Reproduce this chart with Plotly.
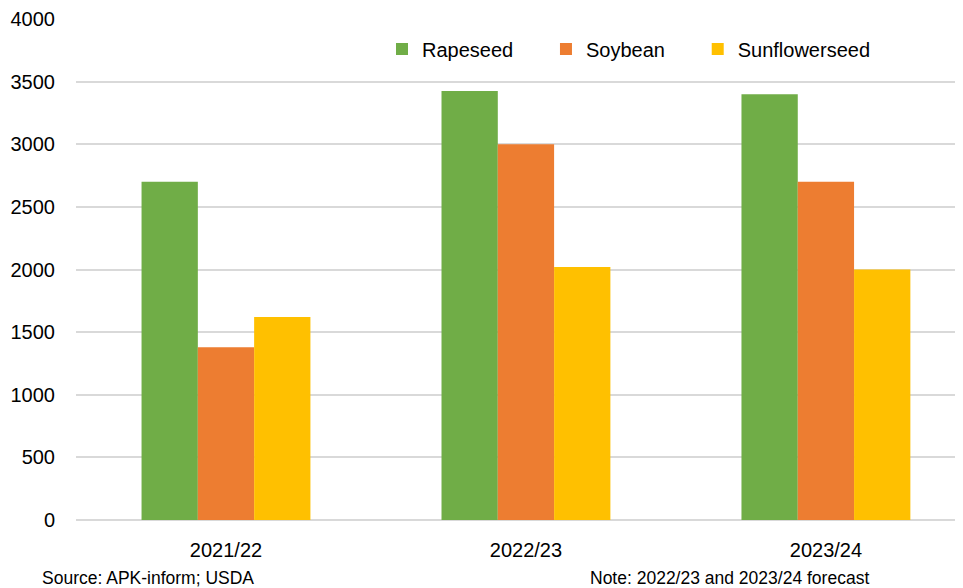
import plotly.graph_objects as go

categories = ["2021/22", "2022/23", "2023/24"]
rapeseed = [2700, 3425, 3400]
soybean = [1380, 3000, 2700]
sunflowerseed = [1620, 2020, 2000]
y_ticks = [0, 500, 1000, 1500, 2000, 2500, 3000, 3500, 4000]

series = [
    ("Rapeseed", rapeseed, "#70ad47"),
    ("Soybean", soybean, "#ed7d31"),
    ("Sunflowerseed", sunflowerseed, "#ffc000"),
]

PAD = "\u00a0" * 5
fig = go.Figure()
for name, vals, color in series:
    fig.add_trace(go.Bar(x=categories, y=vals, name=name + PAD, marker_color=color,
                         marker_line_width=0))

font = "Liberation Sans, Arial, sans-serif"
# the page body has an 8px margin, so the figure is drawn 8px in from the corner
OFF = 8
W, H = 963 - OFF, 588 - OFF
L, T, B = 76 - OFF, 19 - OFF, 68
plot_w = W - L
plot_h = H - T - B

fig.update_layout(
    width=W, height=H,
    margin=dict(l=L, r=0, t=T, b=B, autoexpand=False),
    paper_bgcolor="white", plot_bgcolor="white",
    barmode="group", bargap=0.437, bargroupgap=0,
    font=dict(family=font, size=20, color="#000000"),
    showlegend=True,
    legend=dict(orientation="h", x=306 / plot_w, y=1 - (49 - 19) / plot_h,
                xanchor="left", yanchor="middle",
                font=dict(size=20), bgcolor="rgba(0,0,0,0)"),
    xaxis=dict(range=[-0.5, 2.457], showgrid=False, showline=False, ticks="",
               tickfont=dict(size=20), ticklabelstandoff=16, automargin=False),
    yaxis=dict(range=[0, 4000], tickvals=y_ticks, showgrid=True,
               gridcolor="#d9d9d9", gridwidth=1.5, zeroline=True,
               zerolinecolor="#d9d9d9", zerolinewidth=1.5, showline=False,
               tickfont=dict(size=20), ticklabelstandoff=20, automargin=False),
    annotations=[
        dict(text="Source: APK-inform; USDA", x=(40 - 76) / plot_w,
             y=-(578 - 520) / plot_h, xref="paper", yref="paper",
             xanchor="left", yanchor="middle", showarrow=False,
             font=dict(size=17.5)),
        dict(text="Note: 2022/23 and 2023/24 forecast", x=(588 - 76) / plot_w,
             y=-(578 - 520) / plot_h, xref="paper", yref="paper",
             xanchor="left", yanchor="middle", showarrow=False,
             font=dict(size=17.5)),
    ],
)

fig.write_html("out.html")
